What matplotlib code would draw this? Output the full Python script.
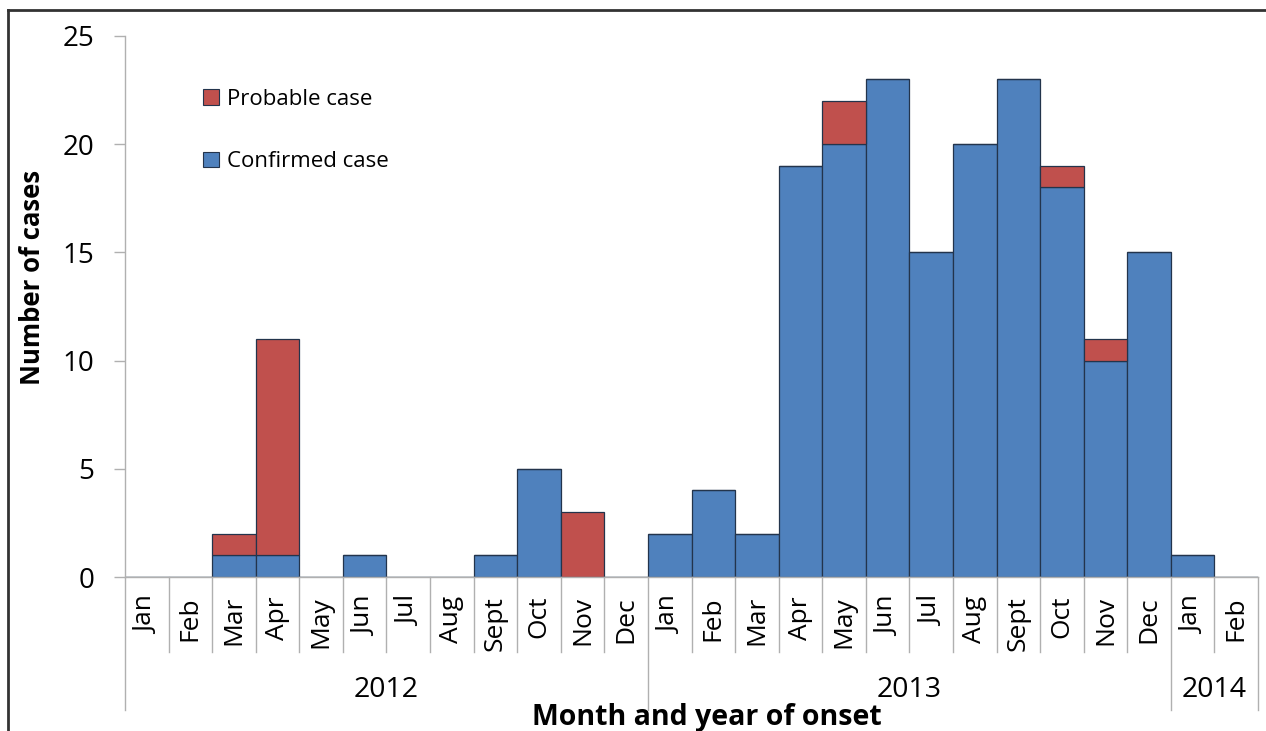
import matplotlib
matplotlib.use("Agg")
import matplotlib.pyplot as plt
from matplotlib.lines import Line2D
from matplotlib.patches import Patch
import numpy as np

plt.rcParams['font.family'] = ['Open Sans', 'DejaVu Sans']

months = ["Jan", "Feb", "Mar", "Apr", "May", "Jun", "Jul", "Aug", "Sept", "Oct", "Nov", "Dec",
          "Jan", "Feb", "Mar", "Apr", "May", "Jun", "Jul", "Aug", "Sept", "Oct", "Nov", "Dec",
          "Jan", "Feb"]
years = ["2012", "2013", "2014"]
year_counts = [12, 12, 2]
confirmed = [0, 0, 1, 1, 0, 1, 0, 0, 1, 5, 0, 0,
             2, 4, 2, 19, 20, 23, 15, 20, 23, 18, 10, 15,
             1, 0]
probable = [0, 0, 1, 10, 0, 0, 0, 0, 0, 0, 3, 0,
            0, 0, 0, 0, 2, 0, 0, 0, 0, 1, 1, 0,
            0, 0]
yticks = [0, 5, 10, 15, 20, 25]

BLUE = "#4F81BD"
RED = "#C0504D"
EDGE = "#23344c"
GRID = "#b0b0b0"

W, H = 1266, 731
fig = plt.figure(figsize=(W / 100, H / 100), dpi=100)
ax = fig.add_axes([125 / W, 1 - 577 / H, (1258 - 125) / W, (577 - 36) / H])

x = np.arange(len(months))
ax.bar(x, confirmed, width=1.0, color=BLUE, edgecolor=EDGE, linewidth=0.9, label="Confirmed case", zorder=2)
ax.bar(x, probable, width=1.0, bottom=confirmed, color=RED, edgecolor=EDGE, linewidth=0.9,
       label="Probable case", zorder=2)

ax.set_xlim(-0.5, len(months) - 0.5)
ax.set_ylim(0, 25)
ax.set_yticks(yticks)
ax.tick_params(axis='y', length=8, width=1, color=GRID, labelsize=20, pad=14)
ax.set_xticks([])
for s in ['top', 'right']:
    ax.spines[s].set_visible(False)
for s in ['left', 'bottom']:
    ax.spines[s].set_color(GRID)
    ax.spines[s].set_linewidth(1)

# category axis decorations
tr = ax.get_xaxis_transform()
ph = 577 - 36
short_y = -(652 - 577) / ph
long_y = -(710 - 577) / ph
month_y = -(596 - 577) / ph
year_y = -(690 - 577) / ph

boundaries = np.cumsum([0] + year_counts) - 0.5
for i in range(len(months) + 1):
    xb = i - 0.5
    y_end = long_y if np.any(np.isclose(boundaries, xb)) else short_y
    ax.add_line(Line2D([xb, xb], [0, y_end], transform=tr, color=GRID, lw=1, clip_on=False))

for i, m in enumerate(months):
    ax.text(i, month_y, m, transform=tr, rotation=90, ha='center', va='top', fontsize=19)

for k, yr in enumerate(years):
    xc = (boundaries[k] + boundaries[k + 1]) / 2
    ax.text(xc, year_y, yr, transform=tr, ha='center', va='center', fontsize=20.5)

fig.text(33 / W, 1 - 277 / H, "Number of cases", rotation=90, ha='center', va='center',
         fontsize=18.5, fontweight='bold')
fig.text(707 / W, 1 - 717 / H, "Month and year of onset", ha='center', va='center',
         fontsize=20.5, fontweight='bold')

handles = [Patch(facecolor=RED, edgecolor=EDGE, linewidth=0.8),
           Patch(facecolor=BLUE, edgecolor=EDGE, linewidth=0.8)]
fig.legend(handles, ["Probable case", "Confirmed case"], loc='upper left',
           bbox_to_anchor=(203 / W, 1 - 89 / H), frameon=False, fontsize=16,
           handlelength=0.7, handleheight=0.7, handletextpad=0.4, labelspacing=1.85,
           borderpad=0, borderaxespad=0)

# outer frame (left and top edges)
fig.add_artist(Line2D([8 / W, 8 / W], [0, 1 - 10 / H], transform=fig.transFigure, color="#333333", lw=2))
fig.add_artist(Line2D([8 / W, 1], [1 - 10 / H, 1 - 10 / H], transform=fig.transFigure, color="#333333", lw=2))

fig.savefig("out.png", dpi=100)
